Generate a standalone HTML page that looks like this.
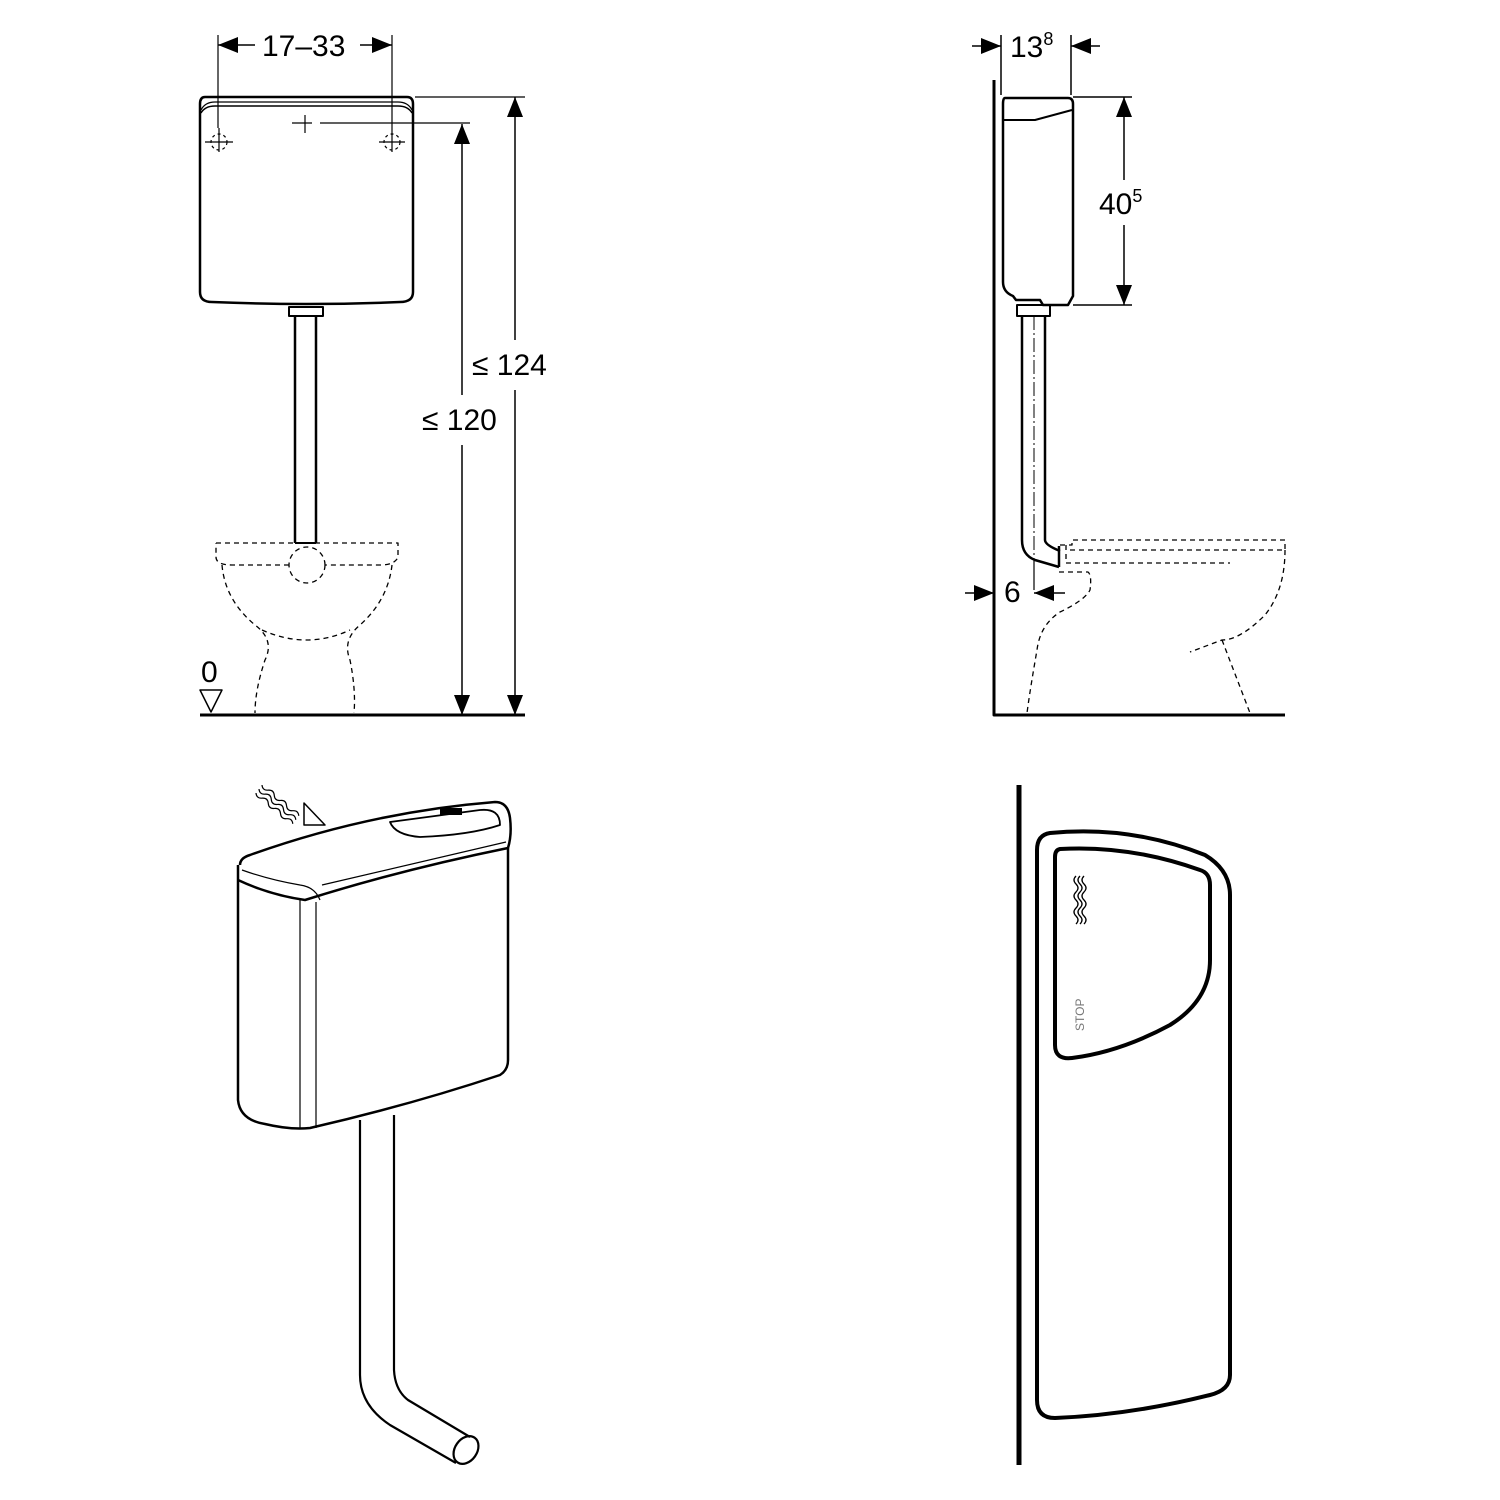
<!DOCTYPE html>
<html><head><meta charset="utf-8"><style>html,body{margin:0;padding:0;background:#fff}svg{display:block}</style></head>
<body>
<svg width="1500" height="1500" viewBox="0 0 1500 1500" xmlns="http://www.w3.org/2000/svg" font-family="Liberation Sans, sans-serif">
<g fill="none" stroke="#000" stroke-width="2.5" stroke-linejoin="round">
<!-- ===== Top-left front view ===== -->
<path d="M205 97 H407 Q413 97 413 104 V292 Q413 302 400 302 Q306 306 212 302 Q200 302 200 292 V104 Q200 97 205 97 Z"/>
<path d="M201 113 Q205 106 215 106 H398 Q408 106 412 113" stroke-width="1.5"/>
<path d="M201 110 Q205 102 215 102 H398 Q408 102 412 110" stroke-width="1.2"/>
<rect x="289" y="307" width="34" height="9" stroke-width="2"/>
<path d="M295 316 V543 M316 316 V543" stroke-width="2.5"/>
<path d="M295 543 H316" stroke-width="2"/>
<g stroke-width="1.2">
<path d="M205 142 H233 M219 128 V152 M292 123 H312 M305 115 V133 M379 142 H405 M392 128 V152"/>
<circle cx="219" cy="142" r="8" stroke-dasharray="3 3"/>
<circle cx="392" cy="142" r="8" stroke-dasharray="3 3"/>
<path d="M218 35 V128 M392 35 V128"/>
<path d="M320 123 H470 M415 97 H525"/>
</g>
<g stroke-width="1.3" stroke-dasharray="5 4">
<path d="M216 543 H398 V557 Q395 565 380 565 H325"/>
<path d="M289 565 H232 Q216 565 216 557 V543"/>
<circle cx="307" cy="565" r="18"/>
<path d="M222 565 Q225 600 255 625 Q275 640 265 660 Q255 690 255 713"/>
<path d="M392 565 Q388 600 360 625 Q342 640 350 660 Q356 690 354 713"/>
<path d="M262 630 Q307 650 350 630"/>
</g>
<path d="M200 715 H525" stroke-width="3"/>
<path d="M200 690 H222 L211 712 Z" stroke-width="1.5"/>
<path d="M462 124 V395 M462 445 V715 M515 97 V340 M515 390 V715 M218 45 H255 M360 45 H392" stroke-width="1.5"/>
</g>
<g fill="#000">
<path d="M462 124 l-8 20 h16 z M462 715 l-8 -20 h16 z M515 97 l-8 20 h16 z M515 715 l-8 -20 h16 z"/>
<path d="M218 45 l20 -8 v16 z M392 45 l-20 -8 v16 z"/>
</g>
<g font-size="30" fill="#000">
<text x="262" y="56">17–33</text>
<text x="472" y="375">≤ 124</text>
<text x="422" y="430">≤ 120</text>
<text x="201" y="682">0</text>
</g>
<!-- ===== Top-right side view ===== -->
<g fill="none" stroke="#000" stroke-width="2.5" stroke-linejoin="round">
<path d="M994 80 V715 H1285" stroke-width="3"/>
<path d="M1005 98 H1068 Q1073 98 1073 104 V296 L1068 305 H1043 L1040 300 H1016 L1013 296 Q1003 292 1003 282 V104 Q1003 98 1005 98 Z"/>
<path d="M1003 120 H1035 L1072 110" stroke-width="2"/>
<path d="M1017 305 H1050 V316 H1017 Z" stroke-width="2"/>
<path d="M1022 316 V540 Q1022 555 1035 560 L1059 567 M1045 316 V540 Q1045 545 1060 551" stroke-width="2.5"/>
<path d="M1059 546 V567" stroke-width="2.5"/>
<path d="M1034 316 V560" stroke-width="1" stroke-dasharray="14 3 2 3"/>
<path d="M1034 560 V590" stroke-width="1.2"/>
<g stroke-width="1.3" stroke-dasharray="5 4">
<path d="M1060 545 H1072 V540 H1285 V550 H1066 M1066 545 V563 H1230"/>
<path d="M1285 550 Q1285 590 1265 615 Q1240 640 1222 640 L1190 652"/>
<path d="M1222 640 L1250 713"/>
<path d="M1059 572 H1088 Q1092 575 1090 590 Q1085 600 1060 612 Q1040 625 1037 650 Q1030 690 1027 713"/>
</g>
<path d="M1001 35 V95 M1071 35 V95 M1073 97 H1132 M1073 305 H1132 M1124 97 V180 M1124 225 V305" stroke-width="1.5"/>
<path d="M972 46 H1001 M1071 46 H1100 M965 593 H994 M1034 593 H1065" stroke-width="1.5"/>
</g>
<g fill="#000">
<path d="M1124 97 l-8 20 h16 z M1124 305 l-8 -20 h16 z"/>
<path d="M1001 46 l-20 -8 v16 z M1071 46 l20 -8 v16 z M994 593 l-20 -8 v16 z M1034 593 l20 -8 v16 z"/>
</g>
<g font-size="30" fill="#000">
<text x="1010" y="57">13<tspan font-size="18" dy="-12">8</tspan></text>
<text x="1099" y="214">40<tspan font-size="18" dy="-12">5</tspan></text>
<text x="1004" y="602">6</text>
</g>
<!-- ===== Bottom-left 3D tank ===== -->
<g fill="none" stroke="#000" stroke-width="2.5" stroke-linejoin="round">
<path d="M240 865 Q240 858 250 855 Q370 812 495 802 Q508 802 510 818 Q512 835 508 848"/>
<path d="M238 865 V1100 Q240 1120 265 1124 Q290 1130 310 1128 Q410 1105 500 1075 Q508 1070 508 1060 V848"/>
<path d="M238 880 Q270 895 305 900 Q400 870 508 848"/>
<path d="M242 870 Q270 880 300 885 Q315 887 320 900" stroke-width="1.2"/>
<path d="M322 885 Q420 862 506 842" stroke-width="1.2"/>
<path d="M300 900 V1128 M316 902 V1128" stroke-width="1.2"/>
<path d="M390 822 Q420 818 480 810 Q500 808 500 825 Q470 835 420 837 Q395 835 390 822 Z" stroke-width="1.8"/>
<path d="M360 1120 V1375 Q360 1405 390 1425 L456 1463 M394 1115 V1370 Q395 1390 408 1400 L470 1437" stroke-width="2.2"/>
<ellipse cx="466" cy="1450" rx="11" ry="15" transform="rotate(35 466 1450)" stroke-width="2.2"/>
<path d="M304 803 L304 825 L325 825 Z" stroke-width="1.5"/>
<g stroke-width="1.2">
<path d="M262 785 q4 4 8 0 q4 -4 8 0 q4 4 8 0 q4 -4 8 0 q4 4 8 0 q4 -4 8 0" transform="rotate(40 262 785)"/>
<path d="M259 789 q4 4 8 0 q4 -4 8 0 q4 4 8 0 q4 -4 8 0 q4 4 8 0 q4 -4 8 0" transform="rotate(40 259 789)"/>
<path d="M256 793 q4 4 8 0 q4 -4 8 0 q4 4 8 0 q4 -4 8 0 q4 4 8 0 q4 -4 8 0" transform="rotate(40 256 793)"/>
</g>
</g>
<rect x="440" y="808" width="22" height="7" fill="#000"/>
<!-- ===== Bottom-right button plate ===== -->
<g fill="none" stroke="#000" stroke-linejoin="round">
<path d="M1019 785 V1465" stroke-width="5"/>
<path d="M1050 833 Q1130 825 1205 855 Q1230 870 1230 895 V1375 Q1230 1390 1210 1395 Q1130 1415 1055 1418 Q1037 1418 1037 1400 V850 Q1037 835 1050 833 Z" stroke-width="4"/>
<path d="M1060 849 Q1130 845 1200 870 Q1210 873 1210 885 V960 Q1210 1000 1170 1025 Q1120 1052 1072 1058 Q1055 1060 1055 1045 V857 Q1055 850 1060 849 Z" stroke-width="4"/>
<g stroke-width="1.3">
<path d="M1076 876 q-4 4 0 8 q4 4 0 8 q-4 4 0 8 q4 4 0 8 q-4 4 0 8 q4 4 0 8"/>
<path d="M1080 876 q-4 4 0 8 q4 4 0 8 q-4 4 0 8 q4 4 0 8 q-4 4 0 8 q4 4 0 8"/>
<path d="M1084 876 q-4 4 0 8 q4 4 0 8 q-4 4 0 8 q4 4 0 8 q-4 4 0 8 q4 4 0 8"/>
</g>
</g>
<text x="0" y="0" font-size="12" fill="#777" transform="translate(1084 1031) rotate(-90)">STOP</text>
</svg>
</body></html>
